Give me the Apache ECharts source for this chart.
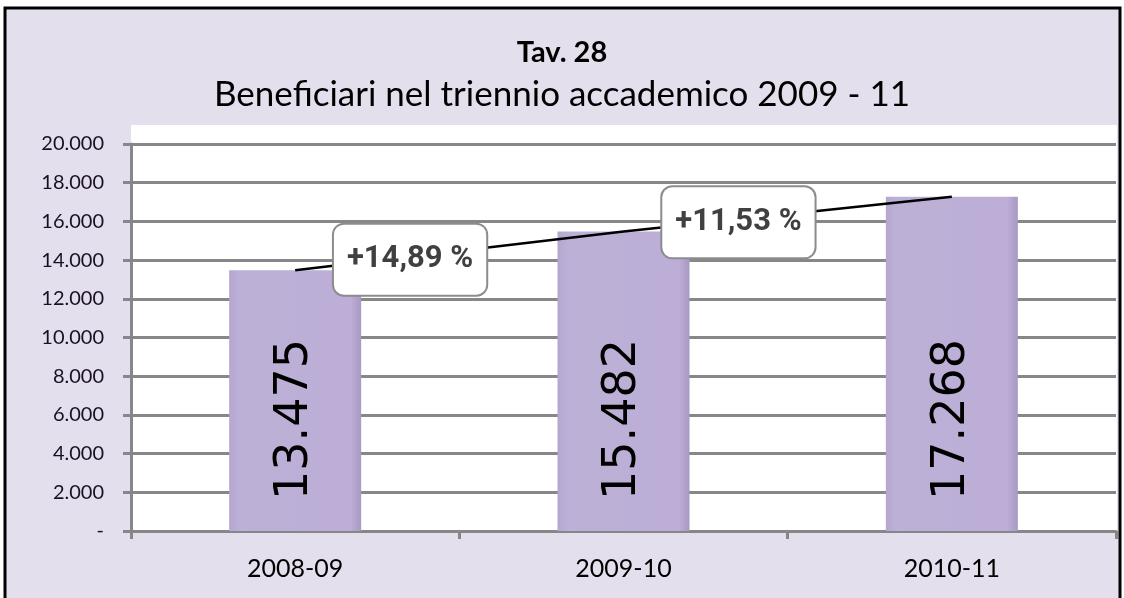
<!DOCTYPE html>
<html>
<head>
<meta charset="utf-8">
<title>Tav. 28</title>
<script src="https://cdn.jsdelivr.net/npm/echarts@6/dist/echarts.min.js"></script>
<style>
  html, body { margin: 0; padding: 0; background: #fff; }
  #grafico { width: 1124px; height: 598px; }
</style>
</head>
<body>
<div id="grafico"></div>
<script>
// Beneficiari per anno accademico
var anni = ['2008-09', '2009-10', '2010-11'];
var beneficiari = [13475, 15482, 17268];
var variazioni = ['+14,89 %', '+11,53 %'];
var tickY = [0, 2000, 4000, 6000, 8000, 10000, 12000, 14000, 16000, 18000, 20000];

function migliaia(v) {
    if (v === 0) return '-';
    return String(v).replace(/\B(?=(\d{3})+(?!\d))/g, '.');
}

// riquadri della variazione: appoggiati sulla linea, circa a un terzo del tratto
var puntiVar = variazioni.map(function (txt, i) {
    var t = 0.35;
    return [i + t, beneficiari[i] + t * (beneficiari[i + 1] - beneficiari[i])];
});

var grigio = '#878787';
var dom = document.getElementById('grafico');
var myChart = echarts.init(dom, null, { renderer: 'canvas' });

var option = {
    backgroundColor: '#fff',
    animation: false,
    title: [
        {
            text: 'Tav. 28', left: 'center', top: 33,
            textStyle: { fontFamily: 'Lato', fontWeight: 'bold', fontSize: 29, color: '#000' }
        },
        {
            text: 'Beneficiari nel triennio accademico 2009 - 11', left: 'center', top: 72,
            textStyle: { fontFamily: 'Lato', fontWeight: 'normal', fontSize: 35, color: '#000' }
        }
    ],
    graphic: [
        {
            type: 'rect', z: -10, silent: true,
            shape: { x: 5, y: 8, width: 1115, height: 600 },
            style: { fill: '#e4dfec', stroke: '#000', lineWidth: 3 }
        },
        {
            type: 'rect', z: -9, silent: true,
            shape: { x: 131, y: 125, width: 986, height: 406 },
            style: { fill: '#fff' }
        }
    ],
    grid: { left: 131, right: 8, top: 144, bottom: 67 },
    xAxis: [
        {
            type: 'category',
            data: anni,
            axisLine: { lineStyle: { color: grigio, width: 3 } },
            axisTick: { show: true, length: 8, lineStyle: { color: grigio, width: 3 } },
            axisLabel: { margin: 25, fontFamily: 'Lato', fontSize: 25, color: '#000' }
        },
        { type: 'value', min: -0.5, max: 2.5, show: false }
    ],
    yAxis: {
        type: 'value',
        min: 0,
        max: 20000,
        interval: 2000,
        axisLine: { show: true, onZero: false, lineStyle: { color: grigio, width: 3 } },
        axisTick: { show: true, length: 8, lineStyle: { color: grigio, width: 3 } },
        splitLine: { lineStyle: { color: grigio, width: 3 } },
        axisLabel: {
            margin: 27, fontFamily: 'Lato', fontSize: 20, color: '#1a1026',
            formatter: function (v) { return tickY.indexOf(v) >= 0 ? migliaia(v) : ''; }
        }
    },
    series: [
        {
            type: 'bar',
            data: beneficiari,
            barWidth: 132,
            itemStyle: {
                color: new echarts.graphic.LinearGradient(0, 0, 1, 0, [
                    { offset: 0, color: '#b5a6d0' },
                    { offset: 0.08, color: '#bdb0d7' },
                    { offset: 0.92, color: '#bcaed6' },
                    { offset: 1, color: '#a898c4' }
                ])
            },
            label: {
                show: true,
                position: 'insideBottom',
                rotate: 90,
                align: 'left',
                verticalAlign: 'middle',
                distance: 31,
                fontFamily: 'DejaVu Sans',
                fontSize: 46,
                color: '#000',
                formatter: function (p) { return migliaia(p.value); }
            }
        },
        {
            type: 'line',
            data: beneficiari,
            symbol: 'none',
            z: 5,
            lineStyle: { color: '#000', width: 2.5 }
        },
        {
            type: 'scatter',
            xAxisIndex: 1,
            data: puntiVar,
            symbolSize: 0,
            z: 10,
            itemStyle: { opacity: 1 },
            label: {
                show: true,
                position: 'inside',
                offset: [0, 3],
                formatter: function (p) { return variazioni[p.dataIndex]; },
                fontFamily: 'Roboto',
                fontWeight: 'bold',
                fontSize: 31,
                color: '#404040',
                opacity: 1,
                backgroundColor: '#fff',
                borderColor: '#8c8c8c',
                borderWidth: 2,
                borderRadius: 10,
                padding: [16, 13],
                lineHeight: 38
            }
        }
    ]
};

myChart.setOption(option);
window.addEventListener('resize', myChart.resize);
</script>
</body>
</html>
